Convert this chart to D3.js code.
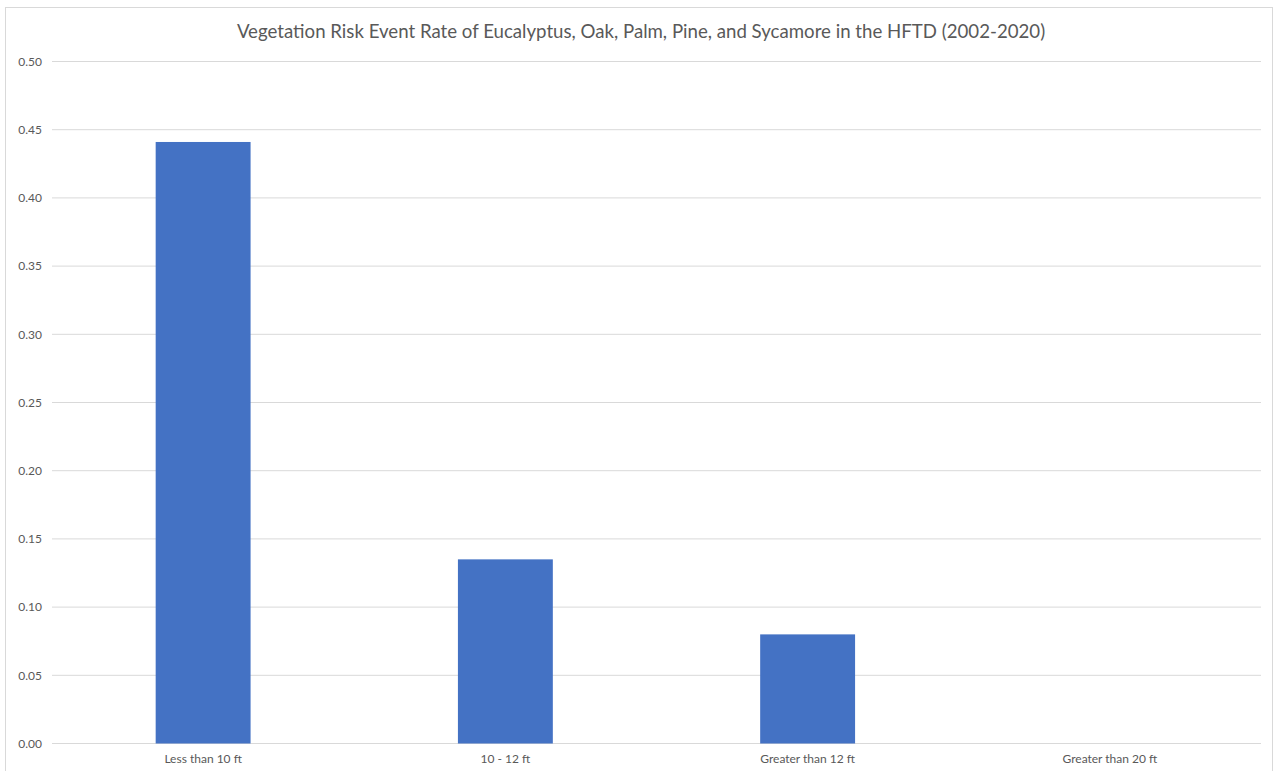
<!DOCTYPE html>
<html>
<head>
<meta charset="utf-8">
<script src="https://cdn.jsdelivr.net/npm/d3@7"></script>
<style>
  body { margin: 0; background: #fff; }
  text { font-family: Lato, "Open Sans", sans-serif; fill: #595959; }
</style>
</head>
<body>
<div id="chart"></div>
<script>
// Data
const categories = ["Less than 10 ft", "10 - 12 ft", "Greater than 12 ft", "Greater than 20 ft"];
const rates = [0.441, 0.135, 0.080, 0.0];
const yTicks = [0, 0.05, 0.10, 0.15, 0.20, 0.25, 0.30, 0.35, 0.40, 0.45, 0.50];
const title = "Vegetation Risk Event Rate of Eucalyptus, Oak, Palm, Pine, and Sycamore in the HFTD (2002-2020)";

const W = 1276, H = 771;
const margin = { top: 62, right: 15, bottom: 28, left: 52 };

const svg = d3.select("#chart")
    .append("svg")
    .attr("width", W)
    .attr("height", H);

// Chart area border
svg.append("rect")
    .attr("x", 5.5)
    .attr("y", 7.5)
    .attr("width", 1267)
    .attr("height", 775)
    .attr("fill", "none")
    .attr("stroke", "#d9d9d9")
    .attr("stroke-width", 1);

// Scales
const x = d3.scaleBand()
    .domain(categories)
    .range([margin.left, W - margin.right])
    .paddingInner(0.686)
    .paddingOuter(0.343);

const y = d3.scaleLinear()
    .domain([0, 0.5])
    .range([743.5, 61.5]);

// Gridlines
svg.append("g")
    .selectAll("line")
    .data(yTicks)
    .join("line")
    .attr("x1", margin.left)
    .attr("x2", W - margin.right)
    .attr("y1", d => y(d))
    .attr("y2", d => y(d))
    .attr("stroke", "#d9d9d9")
    .attr("stroke-width", 1);

// Y axis labels
const yAxis = d3.axisLeft(y)
    .tickValues(yTicks)
    .tickFormat(d3.format(".2f"))
    .tickSize(0)
    .tickPadding(10);

svg.append("g")
    .attr("transform", `translate(${margin.left},0)`)
    .call(yAxis)
    .call(g => g.select(".domain").remove())
    .selectAll("text")
    .style("font-family", "Lato, sans-serif")
    .style("font-size", "12px")
    .attr("fill", "#595959");

// Bars
svg.append("g")
    .selectAll("rect")
    .data(rates)
    .join("rect")
    .attr("x", (d, i) => x(categories[i]))
    .attr("width", x.bandwidth())
    .attr("y", d => y(d))
    .attr("height", d => y(0) - y(d))
    .attr("fill", "#4472c4");

// X axis labels
const xAxis = d3.axisBottom(x)
    .tickSize(0)
    .tickPadding(11);

svg.append("g")
    .attr("transform", `translate(0,${y(0)})`)
    .call(xAxis)
    .call(g => g.select(".domain").remove())
    .selectAll("text")
    .style("font-family", "Lato, sans-serif")
    .style("font-size", "12px")
    .attr("fill", "#595959");

// Title
svg.append("text")
    .attr("x", 641)
    .attr("y", 38)
    .attr("text-anchor", "middle")
    .style("font-size", "18.65px")
    .text(title);
</script>
</body>
</html>
